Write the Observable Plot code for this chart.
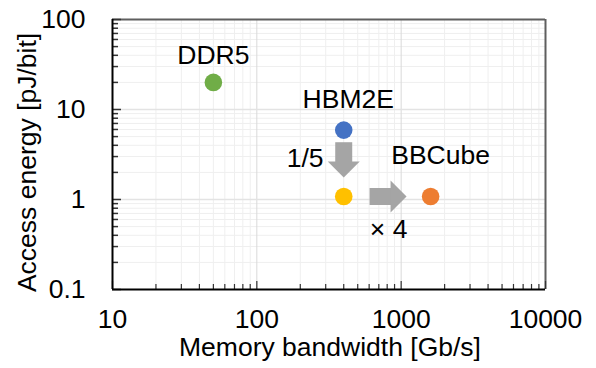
<!DOCTYPE html>
<html>
<head>
<meta charset="utf-8">
<script src="https://cdn.jsdelivr.net/npm/d3@7"></script>
<script src="https://cdn.jsdelivr.net/npm/@observablehq/plot@0.6"></script>
<style>
  html, body { margin: 0; padding: 0; background: #fff; }
  #chart svg { display: block; }
</style>
</head>
<body>
<div id="chart"></div>
<script>
// ---- data ----
const names = ["DDR5", "HBM2E", "HBM2E×4 ch", "BBCube"];
const bandwidth = [50, 400, 400, 1600];      // Gb/s
const energy = [20, 5.9, 1.08, 1.08];         // pJ/bit
const colors = ["#70AD47", "#4472C4", "#FFC000", "#ED7D31"];

const xTicks = [10, 100, 1000, 10000];
const yTicks = [0.1, 1, 10, 100];

// text labels (data coordinates)
const labelText = ["DDR5", "HBM2E", "BBCube", "1/5", "× 4"];
const labelX = [50, 430, 1875, 216, 818];
const labelY = [40, 12.9, 3.08, 2.86, 0.464];

// arrows: shaft start, shaft end, tip
const arrowDir = ["down", "right"];
const arrowStartX = [400, 604];
const arrowStartY = [4.33, 1.08];
const arrowEndX = [400, 860];
const arrowEndY = [2.5, 1.08];
const arrowTipX = [400, 1090];
const arrowTipY = [1.76, 1.08];

// ---- derived tables ----
const points = names.map((n, i) => ({name: n, x: bandwidth[i], y: energy[i], color: colors[i]}));
const labels = labelText.map((t, i) => ({text: t, x: labelX[i], y: labelY[i]}));
const arrows = arrowDir.map((d, i) => ({
  dir: d, x1: arrowStartX[i], y1: arrowStartY[i], x2: arrowEndX[i], y2: arrowEndY[i],
  tx: arrowTipX[i], ty: arrowTipY[i]
}));

function minorOf(majors) {
  const out = [];
  for (let i = 0; i < majors.length - 1; i++)
    for (let k = 2; k <= 9; k++) out.push(+(majors[i] * k).toPrecision(6));
  return out;
}
const xMinor = minorOf(xTicks);
const yMinor = minorOf(yTicks);

// arrow head symbol: tip at origin, pointing to +x
const headSymbol = {
  draw(ctx, size) {
    const r = Math.sqrt(size / Math.PI);
    ctx.moveTo(0, 0);
    ctx.lineTo(-r, -r);
    ctx.lineTo(-r, r);
    ctx.closePath();
  }
};

const font = "'Liberation Sans', Arial, sans-serif";
const fs = 26.5;

const chart = Plot.plot({
  width: 596,
  height: 368,
  marginLeft: 112,
  marginRight: 51,
  marginTop: 19,
  marginBottom: 79,
  style: {fontFamily: font, background: "#fff", color: "#000"},
  x: {type: "log", domain: [10, 10000]},
  y: {type: "log", domain: [0.1, 100]},
  marks: [
    // minor grid
    Plot.gridX(xMinor, {stroke: "#efefef", strokeOpacity: 1, strokeWidth: 1}),
    Plot.gridY(yMinor, {stroke: "#efefef", strokeOpacity: 1, strokeWidth: 1}),
    // major grid
    Plot.gridX([100, 1000], {stroke: "#d9d9d9", strokeOpacity: 1, strokeWidth: 1}),
    Plot.gridY([1, 10], {stroke: "#e3e3e3", strokeOpacity: 1, strokeWidth: 1.6}),
    // frame: top & right gray
    Plot.ruleY([100], {stroke: "#5f5f5f", strokeWidth: 2}),
    Plot.ruleX([10000], {stroke: "#5f5f5f", strokeWidth: 2}),
    // inward ticks (no text)
    Plot.axisX({ticks: xMinor, tickSize: -5, fill: "none", label: null, stroke: "#333", strokeWidth: 1.2}),
    Plot.axisX({ticks: xTicks, tickSize: -8, fill: "none", label: null, stroke: "#333", strokeWidth: 1.2}),
    Plot.axisY({ticks: yMinor, tickSize: -6, fill: "none", label: null, stroke: "#333", strokeWidth: 1.5}),
    Plot.axisY({ticks: yTicks, tickSize: -9, fill: "none", label: null, stroke: "#333", strokeWidth: 1.5}),
    // tick labels
    Plot.axisX({ticks: xTicks, tickSize: 0, tickPadding: 20, fontSize: fs, label: null,
      tickFormat: d => String(d), fill: "#000"}),
    Plot.axisY({ticks: yTicks, tickSize: 0, tickPadding: 27, fontSize: fs, label: null,
      tickFormat: d => String(d), fill: "#000"}),
    // left & bottom axis lines
    Plot.ruleX([10], {stroke: "#000", strokeWidth: 2}),
    Plot.ruleY([0.1], {stroke: "#000", strokeWidth: 2}),
    // axis titles
    Plot.text(["Memory bandwidth [Gb/s]"], {frameAnchor: "bottom", dy: 66, dx: 1, lineAnchor: "bottom",
      textAnchor: "middle", fontSize: fs, fill: "#000", letterSpacing: "1.4px"}),
    Plot.text(["Access energy [pJ/bit]"], {frameAnchor: "left", dx: -85, dy: 8, rotate: -90,
      textAnchor: "middle", lineAnchor: "middle", fontSize: fs, fill: "#000", letterSpacing: "2px"}),
    // arrows
    Plot.link(arrows, {x1: "x1", y1: "y1", x2: "x2", y2: "y2", stroke: "#A5A5A5",
      strokeWidth: 17, strokeLinecap: "butt"}),
    Plot.dot(arrows, {x: "tx", y: "ty", r: 16, symbol: headSymbol, fill: "#A5A5A5",
      stroke: "none", rotate: d => d.dir === "down" ? 90 : 0}),
    // points
    Plot.dot(points, {x: "x", y: "y", r: 8.8, fill: d => d.color, stroke: "none"}),
    // labels
    Plot.text(labels, {x: "x", y: "y", text: "text", fontSize: fs, fill: "#000",
      textAnchor: "middle", lineAnchor: "middle"})
  ]
});

document.getElementById("chart").appendChild(chart);
</script>
</body>
</html>
